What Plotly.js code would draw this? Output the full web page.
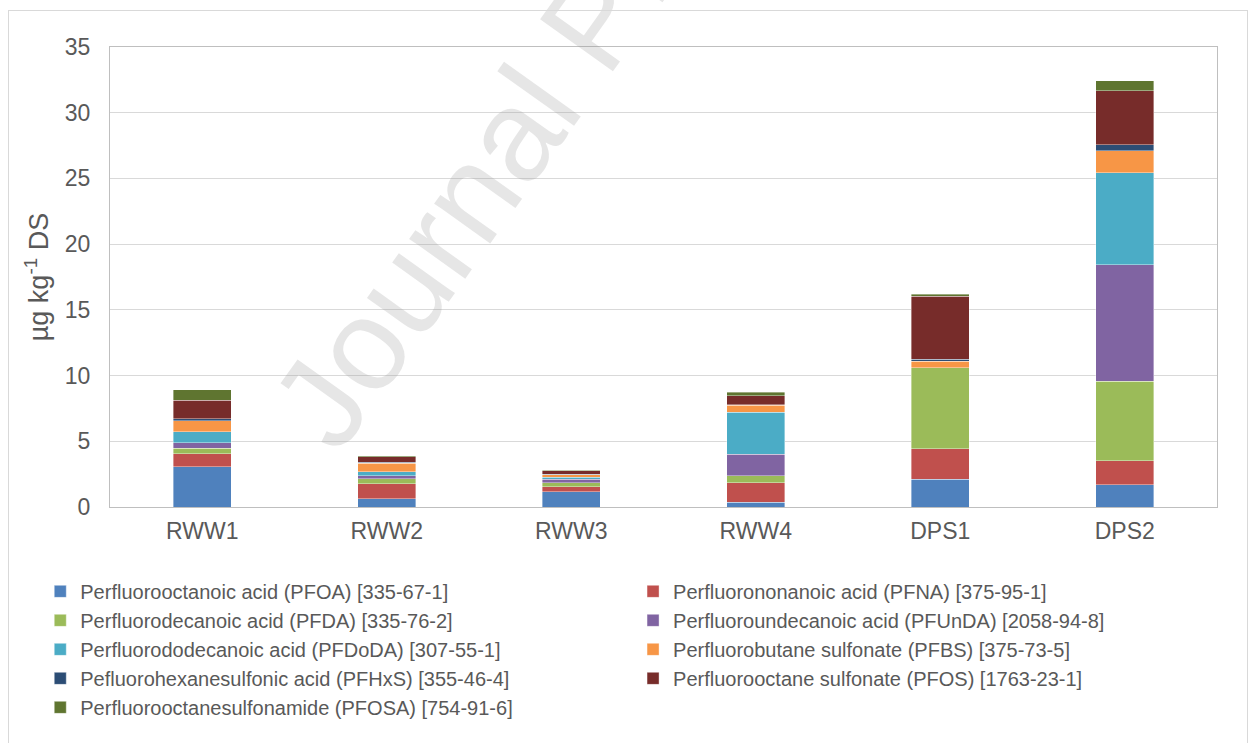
<!DOCTYPE html>
<html>
<head>
<meta charset="utf-8">
<script src="https://cdn.plot.ly/plotly-3.0.1.min.js"></script>
<style>
  html, body { margin: 0; padding: 0; background: #ffffff; }
  #chart { position: absolute; left: 0; top: 0; width: 1249px; height: 743px; }
  #frame { position: absolute; left: 8px; top: 10px; width: 1238px; height: 740px;
           border: 1px solid #d9d9d9; pointer-events: none; z-index: 5; }
</style>
</head>
<body>
<div id="chart"></div>
<div id="frame"></div>
<script>
// Samples (x categories)
const samples = ["RWW1", "RWW2", "RWW3", "RWW4", "DPS1", "DPS2"];

// Compound names (legend labels)
const compounds = [
  "Perfluorooctanoic acid (PFOA) [335-67-1]",
  "Perfluorononanoic acid (PFNA) [375-95-1]",
  "Perfluorodecanoic acid (PFDA) [335-76-2]",
  "Perfluoroundecanoic acid (PFUnDA) [2058-94-8]",
  "Perfluorododecanoic acid (PFDoDA) [307-55-1]",
  "Perfluorobutane sulfonate (PFBS) [375-73-5]",
  "Pefluorohexanesulfonic acid (PFHxS) [355-46-4]",
  "Perfluorooctane sulfonate (PFOS) [1763-23-1]",
  "Perfluorooctanesulfonamide (PFOSA) [754-91-6]"
];

// Values in µg/kg DS, per compound, across samples
const PFOA   = [3.07, 0.61, 1.17, 0.36, 2.11, 1.68];
const PFNA   = [0.99, 1.17, 0.38, 1.49, 2.34, 1.85];
const PFDA   = [0.42, 0.36, 0.30, 0.54, 6.13, 6.02];
const PFUnDA = [0.42, 0.25, 0.26, 1.63, 0.00, 8.90];
const PFDoDA = [0.84, 0.30, 0.15, 3.20, 0.00, 6.97];
const PFBS   = [0.84, 0.64, 0.18, 0.52, 0.50, 1.67];
const PFHxS  = [0.13, 0.08, 0.05, 0.05, 0.18, 0.49];
const PFOS   = [1.40, 0.40, 0.25, 0.68, 4.78, 4.09];
const PFOSA  = [0.82, 0.08, 0.05, 0.28, 0.13, 0.76];

const seriesValues = [PFOA, PFNA, PFDA, PFUnDA, PFDoDA, PFBS, PFHxS, PFOS, PFOSA];
const colors = ["#4F81BD", "#C0504D", "#9BBB59", "#8064A2", "#4BACC6",
                "#F79646", "#2C4D75", "#772C2A", "#5F7530"];

const yTickVals = [0, 5, 10, 15, 20, 25, 30, 35];

const traces = seriesValues.map((vals, i) => ({
  type: "bar",
  name: compounds[i],
  x: samples,
  y: vals,
  legend: (i % 2 === 0) ? "legend" : "legend2",
  legendgroup: "g" + i,
  marker: { color: colors[i], line: { color: "rgba(255,255,255,0.55)", width: 0.7 } },
  hoverinfo: "name+y"
}));

const txt = "#595959";
const fontFam = "Liberation Sans, Arial, sans-serif";
const legFont = { size: 20, color: txt, family: fontFam };

const layout = {
  width: 1249,
  height: 743,
  margin: { l: 110, r: 32, t: 47, b: 236, autoexpand: false },
  paper_bgcolor: "rgba(0,0,0,0)",
  plot_bgcolor: "#ffffff",
  barmode: "stack",
  bargap: 0.686,
  font: { family: fontFam, color: txt, size: 20 },
  xaxis: {
    type: "category",
    showline: true, mirror: true, linecolor: "#bfbfbf", linewidth: 1,
    ticks: "", showgrid: false,
    tickfont: { size: 23, color: txt },
    ticklabelstandoff: 3
  },
  yaxis: {
    range: [0, 35],
    tickvals: yTickVals,
    showline: true, mirror: true, linecolor: "#bfbfbf", linewidth: 1,
    gridcolor: "#d9d9d9", gridwidth: 1,
    zeroline: false,
    ticks: "",
    tickfont: { size: 23, color: txt },
    ticklabelstandoff: 14,
    title: { text: "µg kg<sup>-1</sup> DS", font: { size: 27, color: txt }, standoff: 8 }
  },
  legend: {
    orientation: "v",
    x: -0.063, xanchor: "left",
    y: -0.141, yanchor: "top",
    traceorder: "normal",
    tracegroupgap: 4,
    font: legFont,
    bgcolor: "rgba(0,0,0,0)"
  },
  legend2: {
    orientation: "v",
    x: 0.4725, xanchor: "left",
    y: -0.141, yanchor: "top",
    traceorder: "normal",
    tracegroupgap: 4,
    font: legFont,
    bgcolor: "rgba(0,0,0,0)"
  },
  annotations: [{
    text: "Journal Pre-proof",
    xref: "paper", yref: "paper",
    x: 0.437, y: 1.056,
    xanchor: "center", yanchor: "middle",
    textangle: -54.5,
    showarrow: false,
    font: { family: fontFam, size: 130, color: "rgba(150,150,150,0.24)" }
  }],
  showlegend: true
};

Plotly.newPlot("chart", traces, layout, { displayModeBar: false, staticPlot: true });
</script>
</body>
</html>
